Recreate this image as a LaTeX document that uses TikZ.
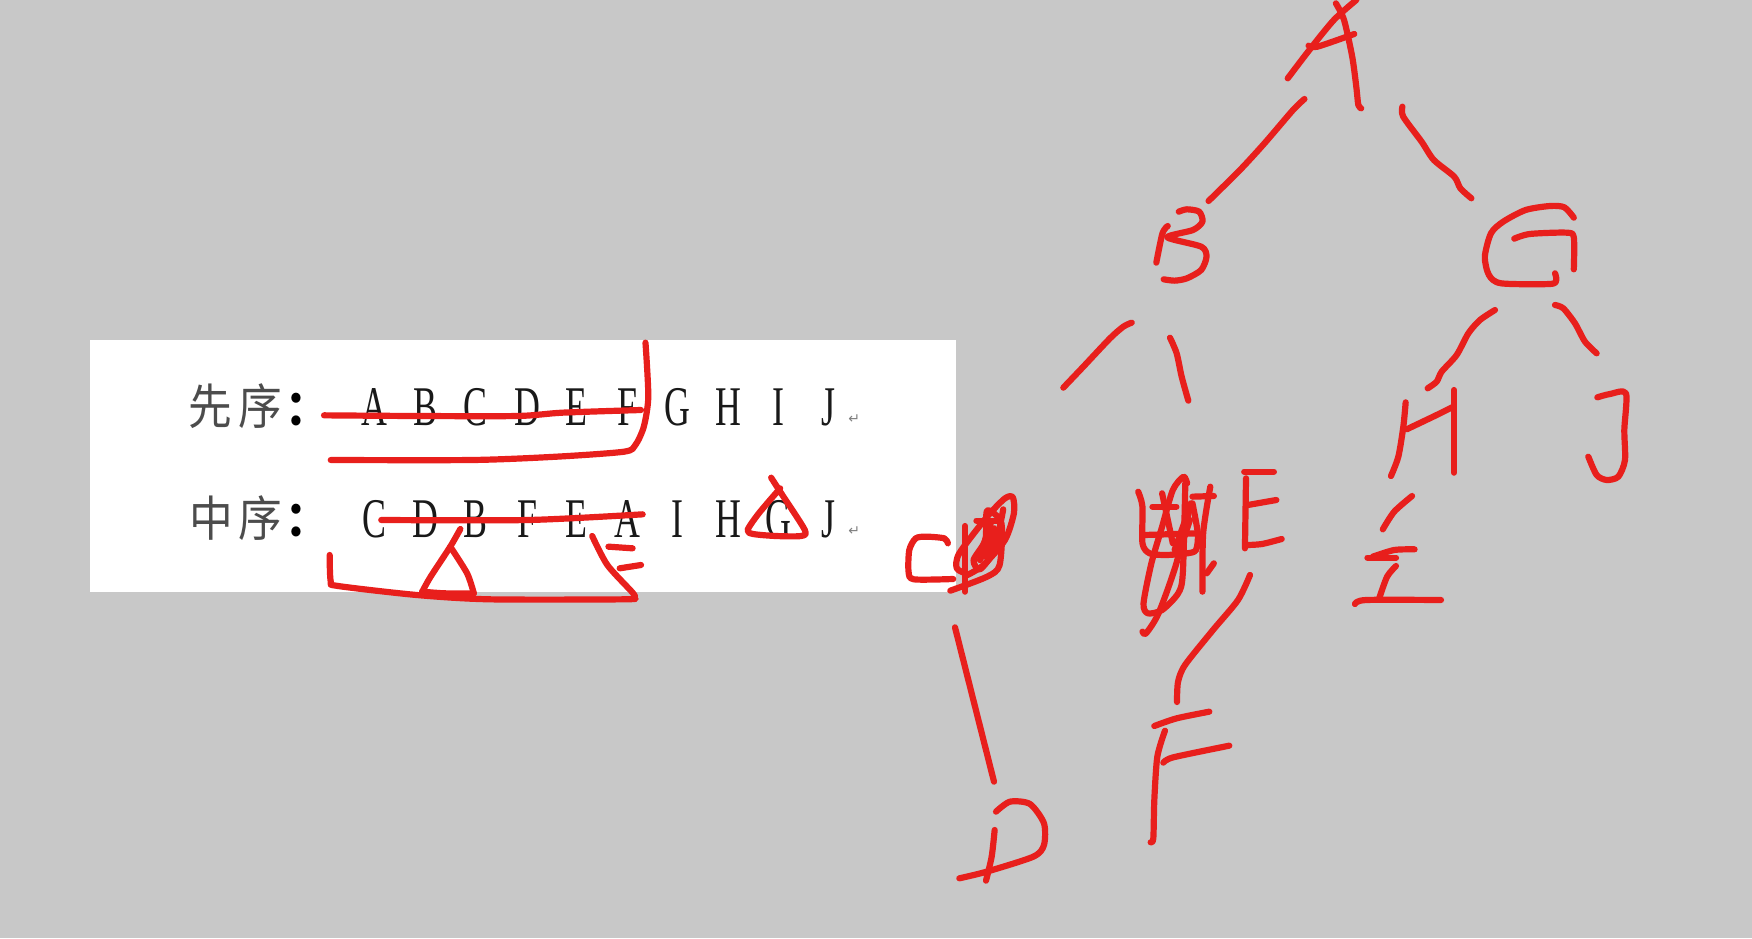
\documentclass[tikz,border=0pt]{standalone}
\usepackage{fontspec}
\setmainfont{Liberation Serif}
\newfontfamily\cjkfont{Noto Sans CJK SC}
\newfontfamily\arrowfont{DejaVu Sans}
\definecolor{pagegrey}{HTML}{C8C8C8}
\definecolor{ink}{HTML}{E81F1C}
\tikzset{
  pen/.style={draw=ink,line width=3.1pt,line cap=round,line join=round},
  latin/.style={inner sep=0pt,font=\fontsize{28}{28}\selectfont,xscale=0.64,text=black!90},
  han/.style={inner sep=0pt,font=\cjkfont\fontsize{23}{23}\selectfont,text=black!70,yscale=1.05,xscale=0.95},
  mark glyph/.style={inner sep=0pt,font=\arrowfont\fontsize{7}{7}\selectfont,text=black!50}
}
\newcommand{\stroke}[1]{\draw[pen] plot[smooth,tension=0.45] coordinates {#1};}
\begin{document}
\begin{tikzpicture}[x=0.5pt,y=-0.5pt]
\useasboundingbox (0,0) rectangle (1752,938);
\fill[pagegrey] (0,0) rectangle (1752,938);
\fill[white] (90,340) rectangle (956,592);

\begin{scope}[shift={(80,330)},x=0.5pt/1.782,y=-0.5pt/3]
  \node[han] (xian) at (232,228) {先};
  \node[han] (xua) at (322,228) {序};
  \node[han,text=black] (cola) at (405,238) {\bfseries ：};
  \node[han] (zhong) at (235,563) {中};
  \node[han] (xub) at (322,563) {序};
  \node[han,text=black] (colb) at (405,572) {\bfseries ：};
  \foreach \t/\x in {A/525,B/615,C/705,D/797,E/885,F/975,G/1065,H/1155,I/1245,J/1335}
    \node[latin,name=pre\t] at (\x,232) {\t};
  \foreach \t/\x in {C/525,D/615,B/705,F/797,E/885,A/975,I/1065,H/1155,G/1245,J/1335}
    \node[latin,name=in\t] at (\x,567) {\t};
  \node[mark glyph] (reta) at (1380,267) {↵};
  \node[mark glyph] (retb) at (1380,602) {↵};

  \stroke{(435,256)(600,258)(780,258)(860,248)(1000,240)}
  \stroke{(1008,38)(1013,200)(1005,290)(990,345)(970,365)(850,380)(700,390)(447,390)}
  \stroke{(537,570)(800,570)(1003,553)}
  \stroke{(1232,443)(1250,490)(1292,600)(1285,618)(1240,618)(1200,612)(1190,600)(1210,550)(1248,475)}
  \stroke{(678,597)(660,650)(625,740)(610,785)}
  \stroke{(660,650)(690,730)(702,790)}
  \stroke{(610,785)(650,790)(702,790)}
  \stroke{(445,675)(447,755)(460,768)(600,795)(730,808)(970,808)(988,803)(985,788)(940,705)(913,618)}
  \stroke{(942,650)(985,655)}
  \stroke{(962,715)(1000,705)}
\end{scope}

\begin{scope}[shift={(880,440)},x=0.5pt/2.8,y=-0.5pt/3]
  \stroke{(190,310)(180,295)(130,290)(100,295)(82,330)(80,395)(95,418)(205,417)}
  \stroke{(238,258)(238,455)}
  \stroke{(197,452)(300,410)(335,375)(340,250)(300,212)(295,300)(262,360)(280,388)(320,330)(345,208)}
  \stroke{(240,400)(215,385)(222,340)(300,230)(350,175)(372,172)(375,220)(350,300)(290,375)(245,405)}
  \stroke{(270,242)(330,242)}
  \stroke{(280,360)(320,265)}
  \stroke{(295,350)(330,280)}
  \stroke{(285,330)(310,250)}
  \stroke{(723,155)(735,200)(735,310)(755,340)(800,345)(860,340)(885,330)(890,280)(875,190)}
  \stroke{(740,285)(890,280)}
  \stroke{(763,200)(830,200)}
  \stroke{(790,160)(820,310)}
  \stroke{(860,130)(850,110)(820,150)(790,260)(760,370)(738,490)(750,520)(790,510)(835,460)(848,400)(855,130)}
  \stroke{(735,575)(745,580)(780,520)(830,370)(870,190)}
  \stroke{(825,330)(860,225)}
  \stroke{(840,330)(868,240)}
  \stroke{(875,170)(935,168)}
  \stroke{(925,140)(905,280)(903,455)}
  \stroke{(915,400)(935,370)}
  \stroke{(1020,95)(1103,95)}
  \stroke{(1025,115)(1022,325)}
  \stroke{(1030,195)(1110,180)}
  \stroke{(1030,315)(1070,312)(1125,297)}
  \stroke{(1490,168)(1440,215)(1408,268)}
  \stroke{(1365,353)(1445,353)}
  \stroke{(1380,350)(1440,330)(1497,328)}
  \stroke{(1445,378)(1420,410)(1398,475)}
\end{scope}
\stroke{(1355,604)(1366,600)(1441,600)}
\stroke{(1250,575)(1238,600)(1213,630)(1185,665)(1178,682)(1177,702)}

\begin{scope}[shift={(920,600)},x=0.5pt/3,y=-0.5pt/3]
  \stroke{(105,82)(222,545)}
  \stroke{(228,635)(270,605)(330,612)(372,670)(372,735)(340,770)(200,815)(118,835)}
  \stroke{(224,690)(215,770)(198,842)}
  \stroke{(703,378)(770,355)(868,335)}
  \stroke{(735,392)(712,470)(703,600)(700,715)(692,727)}
  \stroke{(730,488)(760,472)(928,437)}
\end{scope}

\begin{scope}[shift={(1040,0)},x=0.5pt/2.45,y=-0.5pt/3]
  \stroke{(725,10)(745,60)(765,170)(775,260)(780,315)(787,325)}
  \stroke{(775,0)(720,60)(660,150)(607,235)}
  \stroke{(658,137)(680,140)(770,102)}
  \stroke{(648,297)(620,330)(550,430)(490,510)(413,603)}
  \stroke{(888,320)(890,350)(935,425)(965,480)(1015,530)(1030,565)(1057,595)}
  \stroke{(340,635)(360,628)(390,635)(398,665)(375,690)(312,712)(395,740)(408,770)(395,810)(360,835)(330,842)(303,838)}
  \stroke{(313,678)(300,700)(285,788)}
  \stroke{(1308,653)(1285,622)(1250,618)(1190,630)(1135,665)(1105,700)(1090,770)(1100,825)(1130,850)(1250,852)(1265,840)(1262,820)}
  \stroke{(1162,716)(1200,702)(1290,698)(1308,712)(1308,808)}
\end{scope}

\begin{scope}[shift={(1040,290)},x=0.5pt/3,y=-0.5pt/3]
  \stroke{(70,293)(130,230)(210,145)(250,110)(275,98)}
  \stroke{(390,143)(410,190)(425,260)(445,332)}
\end{scope}

\begin{scope}[shift={(1360,290)},x=0.5pt/3,y=-0.5pt/3]
  \stroke{(203,295)(230,275)(245,245)(290,195)(325,130)(360,90)(405,60)}
  \stroke{(585,45)(610,55)(645,100)(675,155)(710,190)}
  \stroke{(137,337)(130,410)(115,500)(93,558)}
  \stroke{(140,418)(230,375)(280,350)}
  \stroke{(282,300)(282,548)}
  \stroke{(712,322)(750,312)(798,310)(793,420)(795,510)(775,560)(740,570)(710,555)(685,500)}
\end{scope}
\end{tikzpicture}
\end{document}
